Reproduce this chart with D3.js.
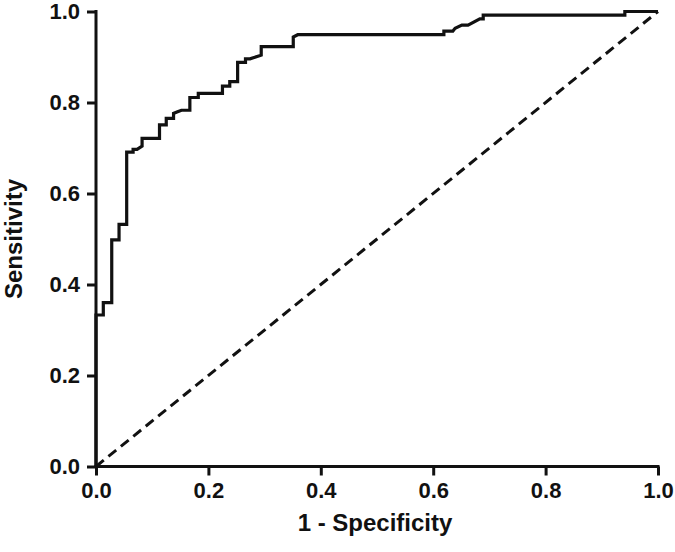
<!DOCTYPE html>
<html>
<head>
<meta charset="utf-8">
<script src="https://cdn.jsdelivr.net/npm/d3@7"></script>
<style>
html,body{margin:0;padding:0;background:#fff;}
text{font-family:"Liberation Sans",Arial,sans-serif;font-weight:bold;fill:#111;}
</style>
</head>
<body>
<svg id="chart" width="675" height="552"></svg>
<script>
// ROC curve points (1 - specificity, sensitivity)
const fpr = [0, 0, 0.013, 0.013, 0.028, 0.028, 0.041, 0.041, 0.0546, 0.0546, 0.066, 0.066, 0.073, 0.082, 0.082, 0.113, 0.113, 0.125, 0.125, 0.138, 0.138, 0.144, 0.152, 0.167, 0.167, 0.182, 0.182, 0.225, 0.225, 0.238, 0.238, 0.252, 0.252, 0.266, 0.266, 0.274, 0.294, 0.294, 0.351, 0.351, 0.359, 0.619, 0.619, 0.635, 0.639, 0.651, 0.662, 0.683, 0.689, 0.689, 0.941, 0.941, 1.0];
const tpr = [0, 0.333, 0.333, 0.360, 0.360, 0.498, 0.498, 0.532, 0.532, 0.691, 0.691, 0.697, 0.697, 0.704, 0.721, 0.721, 0.751, 0.751, 0.765, 0.765, 0.776, 0.779, 0.783, 0.783, 0.811, 0.811, 0.820, 0.820, 0.836, 0.836, 0.846, 0.846, 0.888, 0.888, 0.896, 0.896, 0.904, 0.923, 0.923, 0.944, 0.949, 0.949, 0.957, 0.957, 0.963, 0.970, 0.970, 0.984, 0.984, 0.992, 0.992, 1.0, 1.0];
const refX = [0, 1];
const refY = [0, 1];
const tickValues = [0, 0.2, 0.4, 0.6, 0.8, 1.0];
const xTitle = "1 - Specificity";
const yTitle = "Sensitivity";

const svg = d3.select("#chart");
const x = d3.scaleLinear().domain([0, 1]).range([96, 658]);
const y = d3.scaleLinear().domain([0, 1]).range([466.5, 11.5]);

// axes
const xAxis = d3.axisBottom(x).tickValues(tickValues).tickFormat(d3.format(".1f")).tickSize(9).tickPadding(7).tickSizeOuter(0);
const yAxis = d3.axisLeft(y).tickValues(tickValues).tickFormat(d3.format(".1f")).tickSize(9).tickPadding(7).tickSizeOuter(0);

const gx = svg.append("g").attr("transform", `translate(0,${y(0)})`).call(xAxis);
const gy = svg.append("g").attr("transform", `translate(${x(0)},0)`).call(yAxis);
[gx, gy].forEach(g => {
  g.select(".domain").attr("stroke", "#111").attr("stroke-width", 3);
  g.selectAll(".tick line").attr("stroke", "#111").attr("stroke-width", 3);
  g.selectAll(".tick text").style("font-size", "22px").attr("fill", "#111");
});
gx.select(".domain").attr("d", `M${x(0)-1.5},0H${x(1)+1.5}`);
gy.select(".domain").attr("d", `M0,${y(0)+1.5}V${y(1)-1.5}`);

// reference diagonal
svg.append("path")
  .datum(refX.map((d, i) => [d, refY[i]]))
  .attr("d", d3.line().x(d => x(d[0])).y(d => y(d[1])))
  .attr("fill", "none").attr("stroke", "#111").attr("stroke-width", 3)
  .attr("stroke-dasharray", "10,6");

// ROC curve
svg.append("path")
  .datum(fpr.map((d, i) => [d, tpr[i]]))
  .attr("d", d3.line().x(d => x(d[0])).y(d => y(d[1])))
  .attr("fill", "none").attr("stroke", "#111").attr("stroke-width", 3.2)
  .attr("stroke-linejoin", "miter");

// titles
svg.append("text").attr("x", (x(0) + x(1)) / 2 - 2).attr("y", 531)
  .attr("text-anchor", "middle").style("font-size", "24px").text(xTitle);
svg.append("text").attr("transform", `translate(22,${y(0.5)}) rotate(-90)`)
  .attr("text-anchor", "middle").style("font-size", "24px").text(yTitle);
</script>
</body>
</html>
